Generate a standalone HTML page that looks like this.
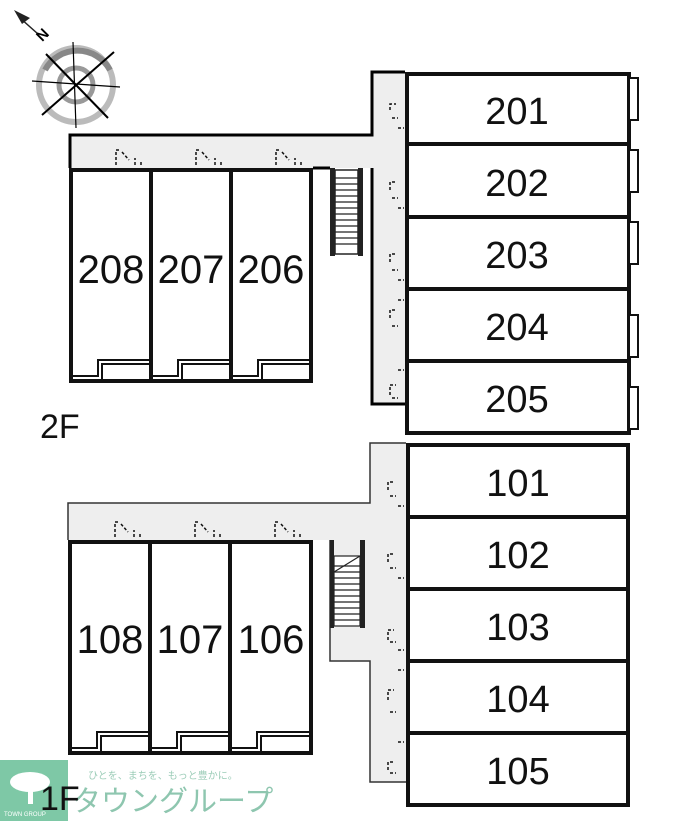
<!DOCTYPE html>
<html><head><meta charset="utf-8"><style>
html,body{margin:0;padding:0;background:#fff;width:700px;height:821px;overflow:hidden}
svg{display:block}
text{font-family:"Liberation Sans","Noto Sans CJK JP",sans-serif}
</style></head><body>
<svg width="700" height="821" viewBox="0 0 700 821" xmlns="http://www.w3.org/2000/svg">
<!-- compass -->
<g>
<circle cx="76" cy="85" r="37" fill="none" stroke="#bbb" stroke-width="6"/>
<path d="M45 70 A37 37 0 0 1 110 70" fill="none" stroke="#888" stroke-width="6"/>
<circle cx="76" cy="85" r="17" fill="none" stroke="#999" stroke-width="5"/>
<line x1="46" y1="54" x2="108" y2="118" stroke="#000" stroke-width="2"/>
<line x1="42" y1="115" x2="114" y2="52" stroke="#000" stroke-width="2"/>
<line x1="32" y1="81" x2="120" y2="87" stroke="#000" stroke-width="1.2"/>
<line x1="73" y1="42" x2="76" y2="128" stroke="#000" stroke-width="1.2"/>
<polygon points="14,10 30,18 22,24" fill="#222"/>
<line x1="20" y1="18" x2="38" y2="34" stroke="#222" stroke-width="1.5"/>
<text x="38" y="44" font-size="15" font-weight="bold" transform="rotate(-45 38 38)">N</text>
</g>

<!-- ===== 2F ===== -->
<rect x="70" y="135" width="335" height="33" fill="#eee"/>
<rect x="372" y="72" width="33" height="332" fill="#eee"/>
<path d="M70 168 V135 H372 V72 H405" fill="none" stroke="#000" stroke-width="3"/>
<path d="M313 168 H330 M372 168 V404 H405" fill="none" stroke="#000" stroke-width="3"/>
<!-- stairs -->
<rect x="330" y="168" width="5" height="88" fill="#222"/>
<rect x="358" y="168" width="5" height="88" fill="#222"/>
<rect x="335" y="170" width="23" height="84" fill="#fff" stroke="#222" stroke-width="1.5"/>
<g stroke="#222" stroke-width="1.2">
<line x1="335" y1="178" x2="358" y2="178"/><line x1="335" y1="184" x2="358" y2="184"/><line x1="335" y1="190" x2="358" y2="190"/><line x1="335" y1="196" x2="358" y2="196"/><line x1="335" y1="202" x2="358" y2="202"/><line x1="335" y1="208" x2="358" y2="208"/><line x1="335" y1="214" x2="358" y2="214"/><line x1="335" y1="220" x2="358" y2="220"/><line x1="335" y1="226" x2="358" y2="226"/><line x1="335" y1="232" x2="358" y2="232"/><line x1="335" y1="238" x2="358" y2="238"/><line x1="335" y1="244" x2="358" y2="244"/>
</g>
<!-- left rooms 2F -->
<g stroke="#111" fill="#fff">
<rect x="71" y="170" width="80" height="211" stroke-width="4"/>
<rect x="151" y="170" width="80" height="211" stroke-width="4"/>
<rect x="231" y="170" width="80" height="211" stroke-width="4"/>
</g>
<g fill="none" stroke="#111" stroke-width="2">
<path d="M73 376 H98 V360 H149 M102 363 V379 M102 364 H149"/>
<path d="M153 376 H178 V360 H229 M182 363 V379 M182 364 H229"/>
<path d="M233 376 H258 V360 H309 M262 363 V379 M262 364 H309"/>
</g>
<g fill="none" stroke="#111" stroke-width="1.5" stroke-dasharray="3,2">
<path d="M116 165 V150 H121 M122 152 L129 160 M135 165 V158 M141 165 V160"/>
<path d="M196 165 V150 H201 M202 152 L209 160 M215 165 V158 M221 165 V160"/>
<path d="M276 165 V150 H281 M282 152 L289 160 M295 165 V158 M301 165 V160"/>
</g>
<g font-size="40" text-anchor="middle" fill="#111">
<text x="111" y="283">208</text><text x="191" y="283">207</text><text x="271" y="283">206</text>
</g>
<!-- right rooms 2F -->
<rect x="407" y="74" width="222" height="359" fill="#fff" stroke="#111" stroke-width="4"/>
<g stroke="#111" stroke-width="4">
<line x1="407" y1="144" x2="629" y2="144"/><line x1="407" y1="217" x2="629" y2="217"/><line x1="407" y1="289" x2="629" y2="289"/><line x1="407" y1="361" x2="629" y2="361"/>
</g>
<g fill="#fff" stroke="#111" stroke-width="2">
<rect x="629" y="78" width="9" height="42"/><rect x="629" y="150" width="9" height="42"/><rect x="629" y="222" width="9" height="42"/><rect x="629" y="315" width="9" height="42"/><rect x="629" y="387" width="9" height="42"/>
</g>
<g fill="none" stroke="#111" stroke-width="1.5" stroke-dasharray="3,2">
<path d="M390 110 V104 H396 M392 118 H398 M398 128 H404"/>
<path d="M390 190 V182 H396 M392 198 H398 M398 208 H404"/>
<path d="M390 262 V254 H396 M392 270 H398 M398 280 H404"/>
<path d="M390 318 V310 H396 M392 326 H398 M398 300 H404"/>
<path d="M390 395 V385 H396 M392 398 H398 M398 370 H404"/>
</g>
<g font-size="38" text-anchor="middle" fill="#111">
<text x="517" y="124">201</text><text x="517" y="196">202</text><text x="517" y="268">203</text><text x="517" y="340">204</text><text x="517" y="412">205</text>
</g>
<text x="40" y="438" font-size="34" fill="#111">2F</text>

<!-- ===== 1F ===== -->
<rect x="68" y="503" width="338" height="37" fill="#eee"/>
<rect x="370" y="443" width="36" height="339" fill="#eee"/>
<rect x="330" y="540" width="41" height="121" fill="#eee"/>
<path d="M68 540 V503 H370 V443 H406 M406 782 H370 V661 H330 V540" fill="none" stroke="#333" stroke-width="1.5"/>
<!-- stairs 1F -->
<rect x="330" y="540" width="4" height="88" fill="#222"/>
<rect x="360" y="540" width="5" height="88" fill="#222"/>
<rect x="334" y="556" width="26" height="70" fill="#fff" stroke="#222" stroke-width="1.2"/>
<g stroke="#222" stroke-width="1.2">
<line x1="334" y1="572" x2="360" y2="556"/>
<line x1="334" y1="566" x2="360" y2="566"/><line x1="334" y1="572" x2="360" y2="572"/><line x1="334" y1="578" x2="360" y2="578"/><line x1="334" y1="584" x2="360" y2="584"/><line x1="334" y1="590" x2="360" y2="590"/><line x1="334" y1="596" x2="360" y2="596"/><line x1="334" y1="602" x2="360" y2="602"/><line x1="334" y1="608" x2="360" y2="608"/><line x1="334" y1="614" x2="360" y2="614"/><line x1="334" y1="620" x2="360" y2="620"/>
</g>
<g stroke="#111" fill="#fff">
<rect x="70" y="542" width="80" height="211" stroke-width="4"/>
<rect x="150" y="542" width="80" height="211" stroke-width="4"/>
<rect x="230" y="542" width="81" height="211" stroke-width="4"/>
</g>
<g fill="none" stroke="#111" stroke-width="2">
<path d="M72 748 H97 V732 H148 M101 735 V751 M101 736 H148"/>
<path d="M152 748 H177 V732 H228 M181 735 V751 M181 736 H228"/>
<path d="M232 748 H257 V732 H309 M261 735 V751 M261 736 H309"/>
</g>
<g fill="none" stroke="#111" stroke-width="1.5" stroke-dasharray="3,2">
<path d="M115 537 V522 H120 M121 524 L128 532 M134 537 V530 M140 537 V532"/>
<path d="M195 537 V522 H200 M201 524 L208 532 M214 537 V530 M220 537 V532"/>
<path d="M275 537 V522 H280 M281 524 L288 532 M294 537 V530 M300 537 V532"/>
</g>
<g font-size="40" text-anchor="middle" fill="#111">
<text x="110" y="653">108</text><text x="190" y="653">107</text><text x="271" y="653">106</text>
</g>
<rect x="408" y="445" width="220" height="360" fill="#fff" stroke="#111" stroke-width="4"/>
<g stroke="#111" stroke-width="4">
<line x1="408" y1="517" x2="628" y2="517"/><line x1="408" y1="589" x2="628" y2="589"/><line x1="408" y1="661" x2="628" y2="661"/><line x1="408" y1="733" x2="628" y2="733"/>
</g>
<g fill="none" stroke="#111" stroke-width="1.5" stroke-dasharray="3,2">
<path d="M388 490 V482 H394 M390 496 H396 M398 506 H404"/>
<path d="M388 562 V554 H394 M390 568 H396 M398 578 H404"/>
<path d="M388 640 V630 H394 M390 642 H396 M398 650 H404"/>
<path d="M388 700 V690 H394 M390 712 H396 M398 670 H404"/>
<path d="M388 770 V762 H394 M390 773 H396 M398 742 H404"/>
</g>
<g font-size="38" text-anchor="middle" fill="#111">
<text x="518" y="496">101</text><text x="518" y="568">102</text><text x="518" y="640">103</text><text x="518" y="712">104</text><text x="518" y="784">105</text>
</g>

<!-- logo -->
<rect x="0" y="760" width="68" height="61" fill="#7ec8a6"/>
<ellipse cx="30" cy="782" rx="20" ry="10" fill="#fff"/>
<rect x="28" y="786" width="5" height="18" fill="#fff"/>
<text x="4" y="816" font-size="6" fill="#fff">TOWN GROUP</text>
<text x="88" y="779" font-size="10" fill="#9ccdb8">ひとを、まちを、もっと豊かに。</text>
<text x="72" y="811" font-size="29" fill="#8ec6af">タウングループ</text>
<text x="40" y="810" font-size="34" fill="#111">1F</text>
</svg>
</body></html>
